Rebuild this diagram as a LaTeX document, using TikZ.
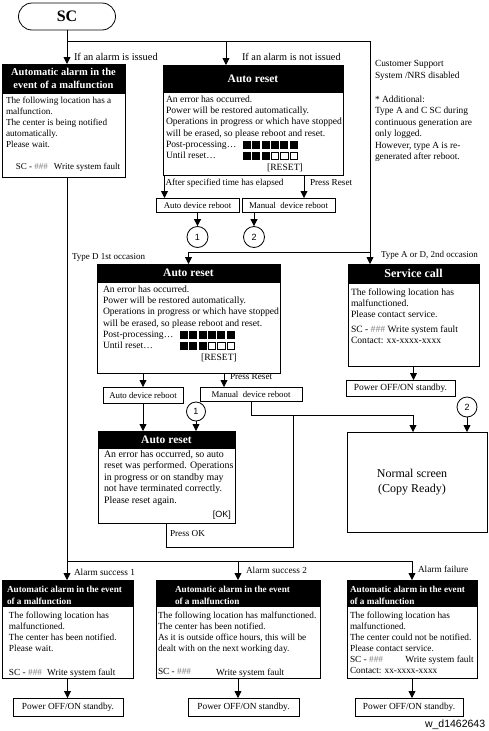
\documentclass[tikz,border=0pt]{standalone}
\usepackage{fontspec}
\setmainfont{Liberation Serif}
\setsansfont{Liberation Sans}
\usetikzlibrary{arrows.meta}
\begin{document}
\begin{tikzpicture}[x=1pt,y=-1pt,
  ln/.style={line width=0.8pt},
  arr/.style={ln,-{Triangle[width=7pt,length=7pt]}},
  bx/.style={draw,ln,inner sep=0,outer sep=0,anchor=north west},
  hd/.style={draw,fill=black,ln,inner sep=0,outer sep=0,anchor=north west,text=white,font=\bfseries\fontsize{11.5}{13}\selectfont},
  tx/.style={inner sep=0,outer sep=0,anchor=north west,align=left,font=\fontsize{9.6}{11.3}\selectfont},
  lb/.style={inner sep=0,outer sep=0,anchor=west,font=\fontsize{9.3}{11}\selectfont},
  rbx/.style={bx,font=\fontsize{8.8}{11}\selectfont},
  cir/.style={draw,ln,circle,minimum size=21pt,inner sep=0,font=\sffamily\fontsize{9}{10}\selectfont},
]
\useasboundingbox (0,0) rectangle (489,731);
\newcommand\hsh{\textcolor{gray}{\#\#\#}}

% ---------- SC ----------
\node[draw,ln,rounded corners=13.5pt,minimum width=97pt,minimum height=27pt,inner sep=0,font=\bfseries\fontsize{16}{18}\selectfont] (sc) at (67,16.5) {SC};

% ---------- left alarm box ----------
\node[bx,minimum width=123pt,minimum height=113pt] (la) at (2,64) {};
\node[hd,minimum width=123pt,minimum height=29pt,align=center,font=\bfseries\fontsize{10.5}{13}\selectfont] (lah) at (2,64) {Automatic alarm in the\\event of a malfunction};
\node[tx,font=\fontsize{9.2}{11}\selectfont] (lab) at (6,96.8) {The following location has a\\malfunction.\\The center is being notified\\automatically.\\Please wait.};
\node[inner sep=0,font=\fontsize{9}{11}\selectfont] (lasc) at (68,167) {SC - \hsh\hspace{6pt}Write system fault};

% ---------- auto reset 1 ----------
\node[bx,minimum width=180pt,minimum height=110pt] (ar1) at (163,65) {};
\node[hd,minimum width=180pt,minimum height=27pt] (ar1h) at (163,65) {Auto reset};
\node[tx] (ar1b) at (166,95.7) {An error has occurred.\\Power will be restored automatically.\\Operations in progress or which have stopped\\will be erased, so please reboot and reset.\\Post-processing\dots\\Until reset\dots};
\foreach \i in {0,...,5} \fill (243+\i*9.3,140.6) rectangle ++(8,8);
\foreach \i in {0,1,2} \fill (243+\i*9.3,152) rectangle ++(8,8);
\foreach \i in {3,4,5} \draw[line width=0.6pt] (243.3+\i*9.3,152.3) rectangle ++(7.4,7.4);
\node[inner sep=0,font=\fontsize{9.6}{11}\selectfont] (ar1r) at (285,167.5) {[RESET]};

% ---------- notes ----------
\node[tx,font=\fontsize{9.4}{11.5}\selectfont] (note1) at (375,60.7) {Customer Support\\System /NRS disabled};
\node[tx,font=\fontsize{9.4}{11.5}\selectfont] (note2) at (375,95.7) {* Additional:\\Type A and C SC during\\continuous generation are\\only logged.\\However, type A is re-\\generated after reboot.};

% ---------- reboot 1 ----------
\node[rbx,minimum width=83pt,minimum height=14pt] (rb1) at (156,198) {Auto device reboot};
\node[rbx,minimum width=93pt,minimum height=14pt] (mr1) at (242,198) {Manual\ \ device reboot};
\node[cir] (c1a) at (197.5,237) {1};
\node[cir] (c2a) at (254,237) {2};

% ---------- service call ----------
\node[bx,minimum width=131pt,minimum height=102pt] (scall) at (348,264) {};
\node[hd,minimum width=131pt,minimum height=19pt,font=\bfseries\fontsize{12}{13}\selectfont] (scallh) at (348,264) {Service call};
\node[tx,font=\fontsize{9.6}{11}\selectfont] (scallb) at (351,288.6) {The following location has\\malfunctioned.\\Please contact service.\\[4pt]SC - \hsh\ Write system fault\\Contact: xx-xxxx-xxxx};
\node[rbx,minimum width=109pt,minimum height=16pt,font=\fontsize{9.4}{11}\selectfont] (pw0) at (346,380) {Power OFF/ON standby.};

% ---------- auto reset 2 ----------
\node[bx,minimum width=183pt,minimum height=109pt] (ar2) at (97,264) {};
\node[hd,minimum width=183pt,minimum height=18pt] (ar2h) at (97,264) {Auto reset};
\node[tx] (ar2b) at (103,285.7) {An error has occurred.\\Power will be restored automatically.\\Operations in progress or which have stopped\\will be erased, so please reboot and reset.\\Post-processing\dots\\Until reset\dots};
\foreach \i in {0,...,5} \fill (180+\i*9.3,330.6) rectangle ++(8,8);
\foreach \i in {0,1,2} \fill (180+\i*9.3,342) rectangle ++(8,8);
\foreach \i in {3,4,5} \draw[line width=0.6pt] (180.3+\i*9.3,342.3) rectangle ++(7.4,7.4);
\node[inner sep=0,font=\fontsize{9.6}{11}\selectfont] (ar2r) at (219,357.5) {[RESET]};

\node[rbx,minimum width=80pt,minimum height=16pt] (rb2) at (103,387) {Auto device reboot};
\node[rbx,minimum width=102pt,minimum height=14pt] (mr2) at (200,387) {Manual\ \ device reboot};
\node[cir,minimum size=19pt] (c1b) at (196,411.5) {1};

% ---------- auto reset 3 ----------
\node[bx,minimum width=137pt,minimum height=92pt] (ar3) at (98,431) {};
\node[hd,minimum width=137pt,minimum height=17pt] (ar3h) at (98,431) {Auto reset};
\node[tx,font=\fontsize{9.9}{11.5}\selectfont] (ar3b) at (104,450.6) {An error has occurred, so auto\\reset was performed. Operations\\in progress or on standby may\\not have terminated correctly.\\Please reset again.};
\node[inner sep=0,anchor=east,font=\sffamily\fontsize{9}{10}\selectfont] (ar3ok) at (231,515) {[OK]};

% ---------- normal screen ----------
\node[bx,minimum width=140pt,minimum height=100pt] (ns) at (347,432) {};
\node[inner sep=0,align=center,font=\fontsize{12}{14.5}\selectfont] (nst) at (412,482) {Normal screen\\(Copy Ready)};
\node[cir,minimum size=20pt] (c2b) at (467,407) {2};

% ---------- bottom boxes ----------
\node[bx,minimum width=131pt,minimum height=98pt] (b1) at (2,580) {};
\node[hd,minimum width=131pt,minimum height=26pt] (b1h) at (2,580) {};
\node[tx,text=white,font=\bfseries\fontsize{9.2}{12}\selectfont] (b1ht) at (7,585.7) {Automatic alarm in the event\\of a malfunction};
\node[tx,font=\fontsize{9.3}{11}\selectfont] (b1b) at (9,611.7) {The following location has\\malfunctioned.\\The center has been notified.\\Please wait.};
\node[tx,font=\fontsize{9.3}{11}\selectfont] (b1sc) at (9,668.7) {SC - \hsh\hspace{5pt}Write system fault};
\node[rbx,minimum width=110pt,minimum height=18pt,font=\fontsize{9.3}{11}\selectfont] (p1) at (13,698) {Power OFF/ON standby.};

\node[bx,minimum width=164pt,minimum height=98pt] (b2) at (156,580) {};
\node[hd,minimum width=164pt,minimum height=26pt] (b2h) at (156,580) {};
\node[tx,text=white,font=\bfseries\fontsize{9.2}{12}\selectfont] (b2ht) at (175,585.7) {Automatic alarm in the event\\of a malfunction};
\node[tx,font=\fontsize{9.3}{11}\selectfont] (b2b) at (158,611.7) {The following location has malfunctioned.\\The center has been notified.\\As it is outside office hours, this will be\\dealt with on the next working day.};
\node[tx,font=\fontsize{9.3}{11}\selectfont] (b2sc) at (158,668.7) {SC - \hsh};
\node[tx,font=\fontsize{9.3}{11}\selectfont] (b2sc2) at (216,668.7) {Write system fault};
\node[rbx,minimum width=111pt,minimum height=18pt,font=\fontsize{9.3}{11}\selectfont] (p2) at (188,698) {Power OFF/ON standby.};

\node[bx,minimum width=130pt,minimum height=98pt] (b3) at (347,580) {};
\node[hd,minimum width=130pt,minimum height=26pt] (b3h) at (347,580) {};
\node[tx,text=white,font=\bfseries\fontsize{9.2}{12}\selectfont] (b3ht) at (350,585.7) {Automatic alarm in the event\\of a malfunction};
\node[tx,font=\fontsize{9.3}{11}\selectfont] (b3b) at (350,611.7) {The following location has\\malfunctioned.\\The center could not be notified.\\Please contact service.\\SC - \hsh\\Contact: xx-xxxx-xxxx};
\node[inner sep=0,anchor=base east,font=\fontsize{9.3}{11}\selectfont] (b3sc2) at (474,662.2) {Write system fault};
\node[rbx,minimum width=108pt,minimum height=18pt,font=\fontsize{9.3}{11}\selectfont] (p3) at (355,698) {Power OFF/ON standby.};

% ---------- coordinates ----------
\coordinate (j0) at (sc.south |- 0,41);
\coordinate (j1) at (ar1h.north -| 226,0);
\coordinate (j1t) at (226,41);
\coordinate (j2) at (370,41);
\coordinate (j3) at (370,252);
\coordinate (j4) at (ar2.north |- j3);
\coordinate (pa) at ([xshift=1.5pt]ar1.south west);
\coordinate (pb) at ([xshift=51pt]ar1.south);
\coordinate (pc) at ([xshift=35.5pt]ar2.south);
\coordinate (j5) at (293,415);
\coordinate (j6) at (293,547);
\coordinate (nsin) at ([xshift=-4pt]ns.north);
\coordinate (lv) at (sc.south |- la.south);
\coordinate (hy) at (0,561);

% ---------- connectors ----------
\draw[arr] (sc.south) -- (sc.south |- la.north);
\draw[ln] (j0) -- (j2);
\draw[arr] (j1t) -- (j1);
\draw[arr] (j2) -- (j2 |- scall.north);
\draw[arr] (j3) -- (j4) -- (ar2.north);
\draw[arr] (pa) -- (pa |- rb1.north);
\draw[arr] (pb) -- (pb |- mr1.north);
\draw[arr] (rb1.south -| c1a) -- (c1a.north);
\draw[arr] (mr1.south -| c2a) -- (c2a.north);
\draw[arr] (scall.south) -- (scall.south |- pw0.north);
\draw[arr] (c2b.south) -- (c2b.south |- ns.north);
\draw[arr] (ar2.south -| rb2.south) -- (rb2.north);
\draw[arr] (pc) -- (pc |- mr2.north);
\draw[arr] (rb2.south) -- (rb2.south |- ar3.north);
\draw[arr] (c1b.south) -- (c1b.south |- ar3.north);
\draw[arr] (mr2.south) |- (nsin |- j5) -- (nsin);
\draw[ln] (ar3.south) |- (j6) -- (j5);
\draw[ln] (lv) -- (lv |- hy) -- (b3.north |- hy);
\draw[arr] (lv |- hy) -- (lv |- b1.north);
\draw[arr] (b2.north |- hy) -- (b2.north);
\draw[arr] (b3.north |- hy) -- (b3.north);
\draw[arr] (b1.south) -- (b1.south |- p1.north);
\draw[arr] (b2.south) -- (b2.south |- p2.north);
\draw[arr] (b3.south) -- (b3.south |- p3.north);

% ---------- labels ----------
\node[lb,font=\fontsize{10.4}{11}\selectfont] (l1) at (74,57) {If an alarm is issued};
\node[lb,font=\fontsize{10.3}{11}\selectfont] (l2) at (242,57) {If an alarm is not issued};
\node[lb,font=\fontsize{9.2}{11}\selectfont] (l3) at (165.5,183) {After specified time has elapsed};
\node[lb,font=\fontsize{9.2}{11}\selectfont] (l4) at (310,183) {Press Reset};
\node[lb,font=\fontsize{9}{11}\selectfont] (l5) at (72,257) {Type D 1st occasion};
\node[lb,font=\fontsize{9}{11}\selectfont] (l6) at (381,255) {Type A or D, 2nd occasion};
\node[lb,font=\fontsize{9.2}{11}\selectfont] (l7) at (230,377) {Press Reset};
\node[lb,font=\fontsize{9.2}{11}\selectfont] (l8) at (170,533) {Press OK};
\node[lb] (l9) at (74,572) {Alarm success 1};
\node[lb] (l10) at (246,570) {Alarm success 2};
\node[lb] (l11) at (418,569) {Alarm failure};
\node[lb,font=\sffamily\fontsize{10.5}{12}\selectfont] (wid) at (425,725) {w\_d1462643};
\end{tikzpicture}
\end{document}
